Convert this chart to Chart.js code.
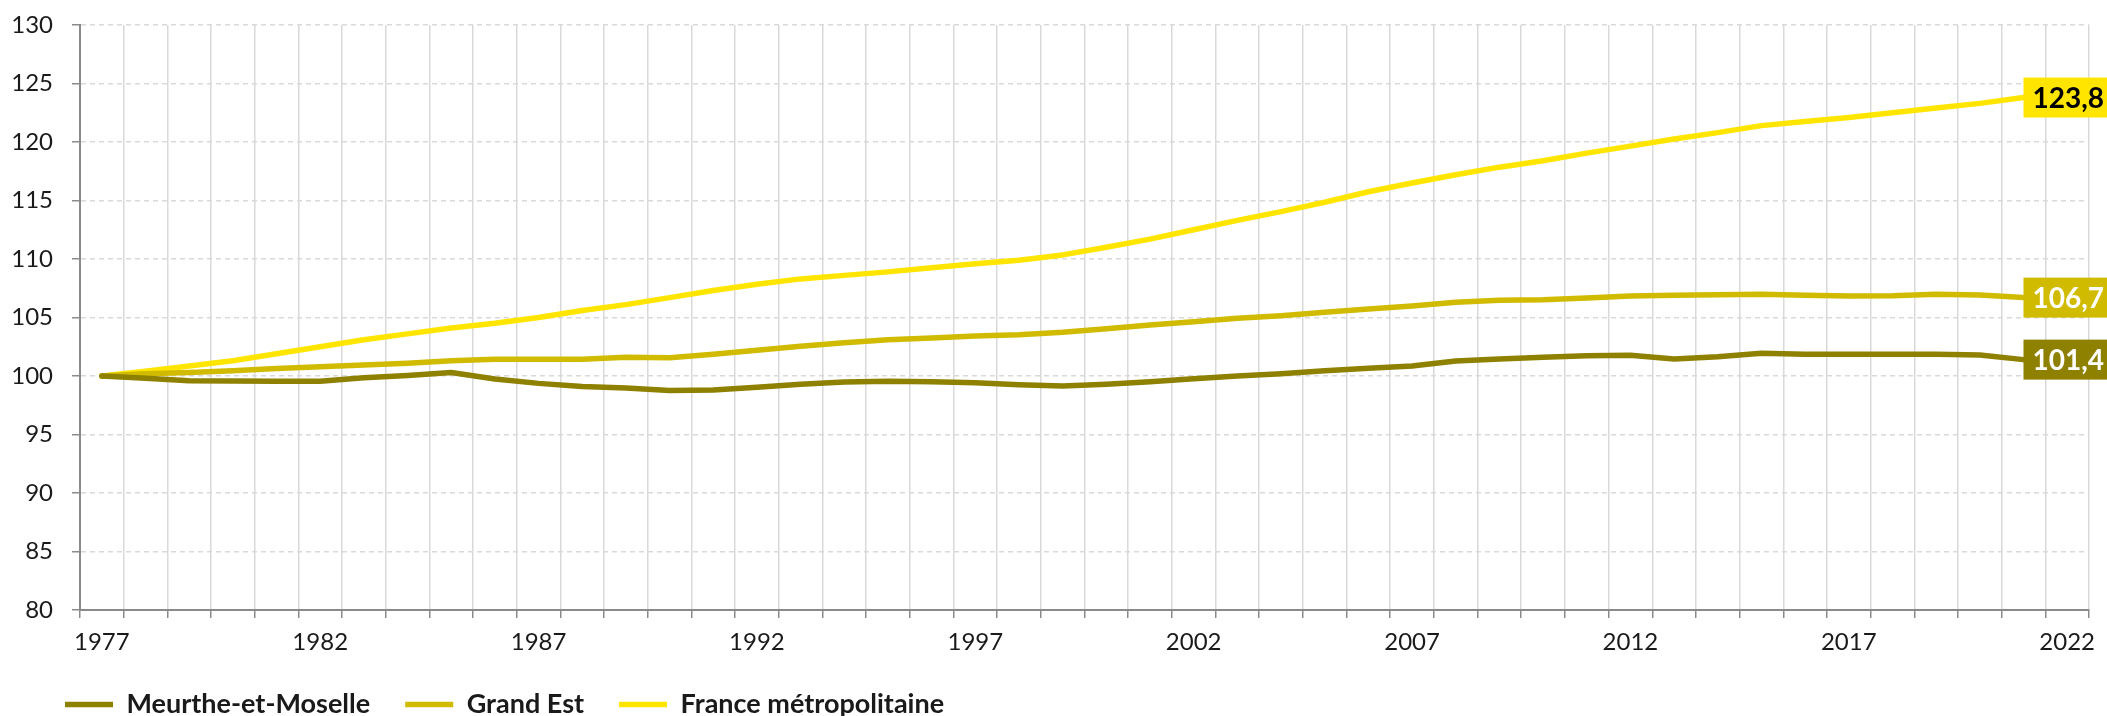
<!DOCTYPE html>
<html>
<head>
<meta charset="utf-8">
<script src="https://cdn.jsdelivr.net/npm/chart.js@4/dist/chart.umd.min.js"></script>
<style>
html,body{margin:0;padding:0;background:#ffffff;}
canvas{display:block;}
</style>
</head>
<body>
<canvas id="c" width="2107" height="716"></canvas>
<script>
// Categories (x tick labels)
const years = [1977,1978,1979,1980,1981,1982,1983,1984,1985,1986,1987,1988,1989,1990,1991,1992,1993,1994,1995,1996,1997,1998,1999,2000,2001,2002,2003,2004,2005,2006,2007,2008,2009,2010,2011,2012,2013,2014,2015,2016,2017,2018,2019,2020,2021,2022];

// Series (base 100 in 1977), values 1977..2021
const meurtheEtMoselle = [100.0,99.8,99.6,99.57,99.55,99.55,99.85,100.05,100.3,99.75,99.37,99.1,98.97,98.77,98.8,99.03,99.29,99.49,99.55,99.51,99.43,99.26,99.15,99.29,99.51,99.77,100.0,100.2,100.45,100.66,100.85,101.28,101.45,101.6,101.74,101.77,101.45,101.65,101.94,101.85,101.85,101.85,101.85,101.8,101.4];
const grandEst = [100.0,100.2,100.3,100.45,100.65,100.8,100.95,101.1,101.3,101.43,101.43,101.43,101.6,101.55,101.85,102.2,102.55,102.85,103.1,103.25,103.42,103.53,103.73,104.04,104.36,104.64,104.93,105.15,105.44,105.73,105.98,106.3,106.47,106.52,106.67,106.84,106.9,106.95,106.98,106.9,106.84,106.86,106.98,106.92,106.7];
const franceMetro = [100.0,100.4,100.85,101.3,101.9,102.5,103.1,103.6,104.1,104.5,105.0,105.6,106.1,106.7,107.3,107.85,108.3,108.6,108.9,109.25,109.6,109.9,110.35,111.0,111.7,112.5,113.3,114.05,114.85,115.75,116.5,117.2,117.85,118.4,119.05,119.65,120.25,120.8,121.4,121.75,122.1,122.5,122.9,123.3,123.8];

const seriesNames = ['Meurthe-et-Moselle','Grand Est','France métropolitaine'];
const seriesColors = ['#8f8100','#d1bb00','#ffe500'];
const endLabelTextColors = ['#ffffff','#ffffff','#000000'];

// Y axis ticks
const yMin = 80, yMax = 130, yStep = 5;

const endLabels = {
  id: 'endLabels',
  afterDatasetsDraw(chart) {
    const ctx = chart.ctx;
    chart.data.datasets.forEach((ds, i) => {
      const meta = chart.getDatasetMeta(i);
      const idx = ds.data.length - 1;
      const pt = meta.data[idx];
      if (!pt) return;
      const txt = ds.data[idx].toFixed(1).replace('.', ',');
      ctx.save();
      ctx.fillStyle = ds.borderColor;
      ctx.fillRect(pt.x, pt.y - 20, 90, 40);
      ctx.fillStyle = endLabelTextColors[i];
      ctx.font = 'bold 28px Lato';
      ctx.textBaseline = 'middle';
      ctx.textAlign = 'left';
      ctx.fillText(txt, pt.x + 9, pt.y + 1);
      ctx.restore();
    });
  }
};
// shift the legend row right so it starts under the y axis labels
const legendShift = {
  id: 'legendShift',
  afterLayout(chart) { if (chart.legend) { chart.legend.left += 30; chart.legend.right += 30; } }
};

function build() {
  const datasets = [meurtheEtMoselle, grandEst, franceMetro].map((d, i) => ({
    label: seriesNames[i], data: d, borderColor: seriesColors[i], backgroundColor: seriesColors[i],
    borderWidth: 5.5, borderCapStyle: 'round', borderJoinStyle: 'round',
    pointRadius: 0, pointHoverRadius: 0, tension: 0, fill: false
  }));
  new Chart(document.getElementById('c'), {
    type: 'line',
    data: { labels: years.map(String), datasets },
    plugins: [endLabels, legendShift],
    options: {
      responsive: false, animation: false, devicePixelRatio: 1, events: [],
      layout: { padding: { left: 0, right: 18, top: 25, bottom: 0 } },
      plugins: {
        tooltip: { enabled: false },
        legend: {
          position: 'bottom', align: 'start', maxHeight: 60,
          labels: { usePointStyle: true, pointStyle: 'line', pointStyleWidth: 48, padding: 35,
            color: '#1a1a1a', font: { family: 'Lato', size: 27, weight: 'bold' } }
        }
      },
      scales: {
        x: {
          offset: true,
          grid: { offset: true, color: '#d9d9d9', lineWidth: 1.5, tickColor: '#8a8a8a', tickLength: 8 },
          border: { color: '#8a8a8a', width: 2 },
          ticks: { autoSkip: false, maxRotation: 0, minRotation: 0, padding: 10,
            color: '#1a1a1a', font: { family: 'Lato', size: 24 },
            callback: function (v, i) { return (i % 5 === 0) ? this.getLabelForValue(v) : ''; } },
          afterFit: s => { s.height = 46; }
        },
        y: {
          min: yMin, max: yMax,
          grid: { color: '#d9d9d9', lineWidth: 1.5, tickColor: '#8a8a8a', tickLength: 8 },
          border: { color: '#8a8a8a', width: 2, dash: [5, 4] },
          ticks: { stepSize: yStep, padding: 19, color: '#1a1a1a', font: { family: 'Lato', size: 24 } },
          afterFit: s => { s.width = 80; s.paddingTop = 0; s.paddingBottom = 0; }
        }
      }
    }
  });
}
if (document.fonts && document.fonts.load) {
  Promise.all([document.fonts.load('24px Lato'), document.fonts.load('bold 27px Lato')]).then(build, build);
} else { build(); }
</script>
</body>
</html>
